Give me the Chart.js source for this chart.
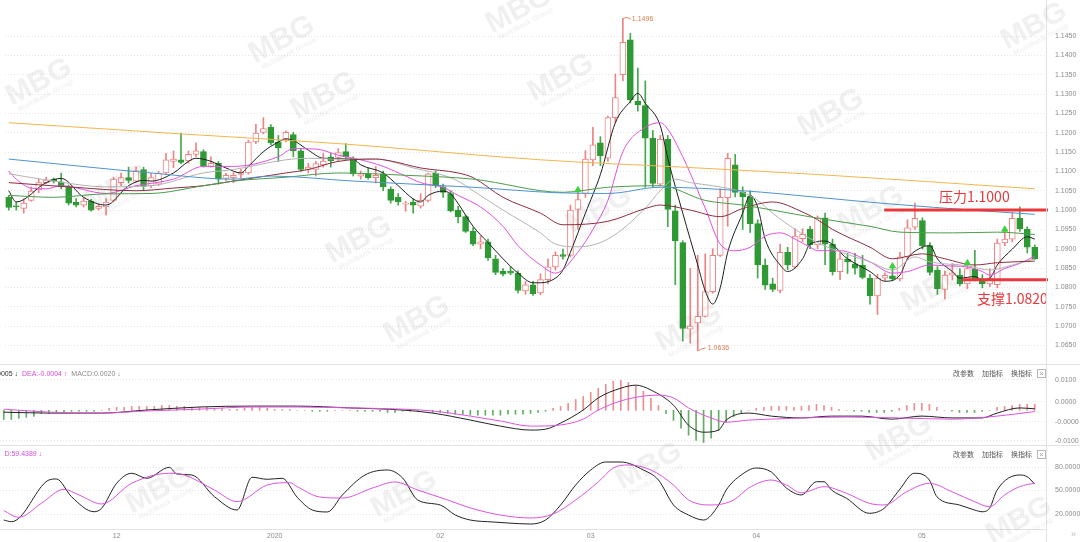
<!DOCTYPE html>
<html lang="zh">
<head>
<meta charset="utf-8">
<title>EUR/USD 日线</title>
<script src="https://cdn.jsdelivr.net/npm/chart.js@4.4.1/dist/chart.umd.min.js"></script>
<style>
  html,body{margin:0;padding:0;background:#fff;}
  body{position:relative;width:1080px;height:542px;overflow:hidden;font-family:'Liberation Sans',Arial,sans-serif;}
  .pane{position:absolute;left:0;width:1080px;}
  .pane canvas{display:block;}
  .rule-h{position:absolute;left:0;width:1080px;height:1px;background:#e2e2e2;}
  .rule-v{position:absolute;top:0;width:1px;height:542px;background:#e2e2e2;}
  .legend{position:absolute;font-size:7px;white-space:nowrap;line-height:9px;}
  .tools{position:absolute;left:953px;font:7px 'Noto Sans CJK SC',sans-serif;color:#555;white-space:nowrap;line-height:9px;}
  .tools span{margin-right:8px;}
  .closebox{position:absolute;left:1037px;width:7px;height:7px;border:1px solid #b8b8b8;font-size:7px;line-height:7px;text-align:center;color:#999;}
  .more{position:absolute;left:1071px;top:529px;font-size:9px;color:#bbb;}
  .wm{position:absolute;transform:translate(-50%,-50%) rotate(-28deg);color:rgba(110,110,110,0.10);
      font:bold 30px 'Liberation Sans',Arial,sans-serif;text-align:center;line-height:26px;pointer-events:none;white-space:nowrap;}
  .wm small{display:block;font:bold 7px 'Liberation Sans',Arial,sans-serif;line-height:8px;letter-spacing:0.3px;}
</style>
</head>
<body>
<div class="pane" style="top:0;height:365px"><canvas id="priceChart" width="1080" height="365"></canvas></div>
<div class="pane" style="top:365px;height:80px"><canvas id="macdChart" width="1080" height="80"></canvas></div>
<div class="pane" style="top:445px;height:97px"><canvas id="kdChart" width="1080" height="97"></canvas></div>

<div class="rule-h" style="top:364px"></div>
<div class="rule-h" style="top:445px"></div>
<div class="rule-h" style="top:529px;width:1047px"></div>
<div class="rule-v" style="left:1046px"></div>

<div class="legend" style="left:-3px;top:369px">
  <span style="color:#333">0005 ↓</span>
  <span style="color:#d94bd9">&nbsp;DEA:-0.0004 ↑</span>
  <span style="color:#8a8a8a">&nbsp;MACD:0.0020 ↓</span>
</div>
<div class="legend" style="left:-3px;top:449px">
  <span style="color:#333">↓</span>
  <span style="color:#d94bd9">&nbsp;D:59.4389 ↓</span>
</div>
<div class="tools" style="top:369px"><span>改参数</span><span>加指标</span><span>换指标</span></div>
<div class="closebox" style="top:369px">×</div>
<div class="tools" style="top:450px"><span>改参数</span><span>加指标</span><span>换指标</span></div>
<div class="closebox" style="top:450px">×</div>
<div class="more">»</div>

<div id="marks"></div>

<script>
// ---- daily candles (oldest first) ----
const candleOpen = [1.1033,1.1011,1.1004,1.1025,1.1052,1.1071,1.1080,1.1073,1.1060,1.1020,
1.1013,1.1023,1.1004,1.1008,1.1025,1.1071,1.1084,1.1075,1.1105,1.1063,
1.1067,1.1096,1.1126,1.1130,1.1127,1.1144,1.1151,1.1113,1.1121,1.1082,
1.1084,1.1092,1.1096,1.1176,1.1201,1.1214,1.1176,1.1184,1.1195,1.1153,
1.1105,1.1105,1.1117,1.1137,1.1136,1.1151,1.1134,1.1088,1.1094,1.1084,
1.1094,1.1054,1.1033,1.1015,1.1021,1.1010,1.1025,1.1096,1.1060,1.1043,
1.1000,1.0983,1.0945,1.0912,1.0918,1.0874,1.0842,1.0842,1.0837,1.0791,
1.0807,1.0786,1.0820,1.0853,1.0885,1.0883,1.1002,1.1043,1.1130,1.1174,
1.1134,1.1239,1.1350,1.1440,1.1281,1.1270,1.1186,1.1067,1.1183,1.0998,
1.0916,1.0692,1.0708,1.0725,1.0789,1.0883,1.1032,1.1117,1.1046,1.1035,
1.0965,1.0858,1.0809,1.0792,1.0891,1.0853,1.0926,1.0950,1.0910,1.0980,
1.0912,1.0841,1.0873,1.0861,1.0858,1.0824,1.0778,1.0824,1.0830,1.0822,
1.0879,1.0956,1.0973,1.0908,1.0845,1.0795,1.0832,1.0831,1.0809,1.0847,
1.0822,1.0809,1.0807,1.0915,1.0925,1.0979,1.0951,1.0904];
const candleHigh = [1.1038,1.1021,1.1029,1.1060,1.1080,1.1085,1.1083,1.1096,1.1065,1.1030,
1.1033,1.1028,1.1015,1.1030,1.1085,1.1096,1.1111,1.1111,1.1111,1.1095,
1.1100,1.1147,1.1153,1.1199,1.1153,1.1174,1.1156,1.1138,1.1126,1.1096,
1.1097,1.1106,1.1181,1.1222,1.1239,1.1221,1.1193,1.1205,1.1201,1.1159,
1.1121,1.1126,1.1147,1.1147,1.1159,1.1172,1.1138,1.1101,1.1108,1.1113,
1.1101,1.1060,1.1043,1.1023,1.1030,1.1042,1.1096,1.1101,1.1067,1.1050,
1.1010,1.0987,1.0955,1.0933,1.0925,1.0883,1.0849,1.0854,1.0843,1.0816,
1.0816,1.0835,1.0874,1.0892,1.0899,1.1013,1.1055,1.1154,1.1214,1.1190,
1.1243,1.1352,1.1496,1.1457,1.1367,1.1334,1.1206,1.1193,1.1193,1.1013,
1.0921,1.0849,1.0883,1.0887,1.0900,1.1055,1.1147,1.1144,1.1060,1.1050,
1.0975,1.0874,1.0824,1.0912,1.0904,1.0952,1.0952,1.0958,1.0985,1.0992,
1.0925,1.0892,1.0888,1.0888,1.0883,1.0834,1.0834,1.0838,1.0858,1.0891,
1.0975,1.1018,1.0980,1.0916,1.0854,1.0842,1.0862,1.0849,1.0868,1.0896,
1.0833,1.0849,1.0925,1.0953,1.0994,1.1008,1.0957,1.0910];
const candleLow = [1.1000,1.1000,1.0992,1.1023,1.1045,1.1068,1.1070,1.1055,1.1013,1.1008,
1.1008,1.0997,1.1000,1.0987,1.1023,1.1063,1.1070,1.1072,1.1050,1.1058,
1.1063,1.1093,1.1110,1.1120,1.1121,1.1138,1.1111,1.1111,1.1067,1.1076,
1.1071,1.1084,1.1093,1.1172,1.1197,1.1169,1.1126,1.1176,1.1138,1.1100,
1.1096,1.1088,1.1111,1.1111,1.1126,1.1131,1.1088,1.1080,1.1080,1.1070,
1.1050,1.1018,1.1013,1.0997,1.0992,1.1005,1.1021,1.1058,1.1033,1.0995,
1.0967,1.0942,1.0908,1.0900,1.0870,1.0833,1.0830,1.0833,1.0786,1.0782,
1.0779,1.0781,1.0810,1.0845,1.0873,1.0880,1.0950,1.1033,1.1115,1.1115,
1.1126,1.1226,1.1335,1.1277,1.1256,1.1059,1.1059,1.1063,1.0957,1.0807,
1.0661,1.0656,1.0636,1.0723,1.0785,1.0880,1.0958,1.1034,1.0950,1.0942,
1.0824,1.0795,1.0789,1.0786,1.0846,1.0849,1.0918,1.0900,1.0900,1.0859,
1.0832,1.0820,1.0836,1.0834,1.0822,1.0757,1.0730,1.0818,1.0817,1.0817,
1.0874,1.0950,1.0899,1.0832,1.0782,1.0770,1.0819,1.0804,1.0797,1.0817,
1.0799,1.0802,1.0799,1.0908,1.0918,1.0945,1.0889,1.0872];
const candleClose = [1.1007,1.1008,1.1018,1.1049,1.1071,1.1078,1.1075,1.1060,1.1018,1.1013,
1.1023,1.1000,1.1010,1.1021,1.1080,1.1084,1.1077,1.1102,1.1061,1.1084,
1.1096,1.1130,1.1132,1.1123,1.1144,1.1153,1.1115,1.1121,1.1080,1.1090,
1.1090,1.1099,1.1176,1.1199,1.1211,1.1174,1.1161,1.1201,1.1153,1.1105,
1.1111,1.1120,1.1127,1.1127,1.1149,1.1138,1.1094,1.1094,1.1084,1.1090,
1.1060,1.1025,1.1021,1.1018,1.1013,1.1025,1.1094,1.1063,1.1046,1.0998,
1.0983,1.0945,1.0912,1.0918,1.0876,1.0839,1.0834,1.0837,1.0792,1.0807,
1.0784,1.0820,1.0853,1.0883,1.0880,1.1000,1.1027,1.1132,1.1169,1.1141,
1.1239,1.1291,1.1434,1.1285,1.1272,1.1186,1.1069,1.1183,1.1002,1.0920,
1.0694,1.0700,1.0725,1.0789,1.0883,1.1033,1.1134,1.1046,1.1035,1.0965,
1.0858,1.0806,1.0795,1.0891,1.0858,1.0933,1.0937,1.0910,1.0980,1.0912,
1.0841,1.0874,1.0866,1.0850,1.0826,1.0778,1.0824,1.0831,1.0822,1.0879,
1.0954,1.0979,1.0908,1.0839,1.0797,1.0832,1.0838,1.0809,1.0849,1.0822,
1.0809,1.0824,1.0915,1.0925,1.0979,1.0951,1.0904,1.0874];

// ---- moving averages, sampled as [day index, value] ----
const ma5Points = [[0,1.1050],[1,1.1021],[5,1.1071],[7,1.1082],[10,1.1033],[13,1.1013],[16,1.1063],[18,1.1077],[19,1.1075],[22,1.1096],[24,1.1126],[25,1.1134],[27,1.1126],[29,1.1109],[31,1.1096],[32,1.1113],[34,1.1151],[36,1.1176],[37,1.1184],[38,1.1180],[40,1.1155],[42,1.1134],[46,1.1132],[47,1.1117],[50,1.1096],[52,1.1063],[54,1.1029],[55,1.1021],[56,1.1038],[58,1.1049],[59,1.1042],[60,1.1017],[62,1.0958],[64,1.0916],[66,1.0874],[68,1.0837],[70,1.0812],[71,1.0812],[73,1.0824],[74,1.0845],[75,1.0891],[77,1.0992],[79,1.1092],[81,1.1226],[83,1.1281],[84,1.1302],[85,1.1276],[87,1.1218],[88,1.1134],[90,1.0992],[92,1.0858],[93,1.0791],[94,1.0757],[95,1.0799],[96,1.0891],[98,1.0992],[99,1.1038],[100,1.1008],[101,1.0925],[103,1.0858],[104,1.0841],[106,1.0874],[107,1.0912],[109,1.0920],[112,1.0874],[115,1.0841],[117,1.0816],[119,1.0832],[120,1.0874],[122,1.0904],[123,1.0908],[124,1.0874],[126,1.0841],[127,1.0824],[129,1.0828],[130,1.0820],[131,1.0824],[132,1.0858],[134,1.0899],[136,1.0931],[137,1.0925]];
const ma10Points = [[0,1.1101],[1,1.1080],[3,1.1057],[5,1.1055],[7,1.1063],[13,1.1043],[17,1.1063],[22,1.1080],[26,1.1113],[30,1.1113],[36,1.1138],[38,1.1159],[41,1.1158],[44,1.1142],[47,1.1130],[50,1.1113],[53,1.1088],[55,1.1071],[57,1.1063],[58,1.1059],[60,1.1038],[63,1.1008],[66,1.0958],[68,1.0908],[71,1.0858],[73,1.0837],[76,1.0891],[78,1.0950],[80,1.1025],[82,1.1151],[85,1.1214],[87,1.1226],[88,1.1209],[90,1.1138],[92,1.1050],[93,1.1005],[95,1.0912],[97,1.0895],[99,1.0904],[101,1.0933],[103,1.0941],[105,1.0925],[107,1.0904],[108,1.0895],[111,1.0895],[115,1.0866],[118,1.0837],[120,1.0841],[123,1.0858],[125,1.0856],[128,1.0853],[130,1.0841],[131,1.0832],[133,1.0849],[135,1.0862],[137,1.0881]];
const ma20Points = [[0,1.1094],[6,1.1075],[13,1.1060],[19,1.1063],[26,1.1096],[30,1.1105],[37,1.1130],[40,1.1134],[44,1.1132],[49,1.1132],[51,1.1126],[54,1.1109],[57,1.1096],[60,1.1075],[62,1.1050],[66,1.1000],[71,1.0941],[73,1.0912],[76,1.0905],[80,1.0925],[85,1.1005],[87,1.1050],[89,1.1080],[91,1.1071],[94,1.1063],[98,1.1046],[100,1.1025],[102,1.0992],[105,1.0950],[108,1.0916],[110,1.0899],[115,1.0866],[118,1.0845],[121,1.0879],[123,1.0866],[128,1.0856],[131,1.0845],[134,1.0858],[137,1.0874]];
const ma30Points = [[0,1.1071],[8,1.1060],[17,1.1050],[22,1.1057],[26,1.1063],[30,1.1075],[37,1.1096],[40,1.1105],[44,1.1126],[49,1.1132],[51,1.1127],[55,1.1109],[60,1.1096],[62,1.1084],[66,1.1033],[71,1.0992],[74,1.0962],[80,1.0971],[85,1.1004],[87,1.1013],[91,1.1000],[95,1.0983],[98,1.1004],[102,1.1021],[106,1.0995],[108,1.0975],[110,1.0950],[115,1.0904],[118,1.0874],[122,1.0887],[125,1.0874],[129,1.0858],[132,1.0864],[137,1.0868]];
const ma60Points = [[0,1.1038],[6,1.1033],[13,1.1042],[19,1.1043],[26,1.1063],[30,1.1075],[37,1.1085],[44,1.1096],[53,1.1090],[62,1.1080],[74,1.1046],[80,1.1059],[87,1.1063],[93,1.1025],[98,1.1013],[102,1.1000],[108,1.0979],[115,1.0958],[119,1.0943],[126,1.0941],[132,1.0943],[137,1.0937]];
const ma120Points = [[0,1.1132],[19,1.1096],[30,1.1080],[35,1.1088],[46,1.1075],[62,1.1059],[73,1.1045],[80,1.1043],[87,1.1059],[98,1.1050],[108,1.1033],[117,1.1017],[130,1.0998],[137,1.0989]];
const ma250Points = [[0,1.1226],[23,1.1197],[44,1.1172],[71,1.1130],[90,1.1111],[108,1.1092],[137,1.1055]];

// ---- MACD ----
const difPoints = [[0,-0.0006],[6,-0.0009],[13,-0.0009],[19,0.0001],[26,0.0011],[33,0.0014],[39,0.0014],[46,0.0008],[53,0.0001],[57,-0.0009],[62,-0.0032],[66,-0.0052],[70,-0.0065],[72,-0.0062],[74,-0.0042],[77,0.0001],[79,0.0041],[82,0.0073],[84,0.0083],[86,0.0067],[89,0.0017],[91,-0.0049],[93,-0.0072],[95,-0.0065],[96,-0.0032],[99,-0.0009],[102,-0.0019],[106,-0.0025],[110,-0.0019],[114,-0.0019],[118,-0.0029],[122,-0.0019],[126,-0.0025],[130,-0.0025],[132,-0.0009],[135,0.0008],[137,0.0005]];
const deaPoints = [[0,0.0004],[6,-0.0006],[13,-0.0009],[19,-0.0002],[26,0.0004],[33,0.0011],[39,0.0011],[46,0.0008],[53,0.0004],[57,-0.0002],[62,-0.0019],[66,-0.0035],[70,-0.0052],[74,-0.0048],[77,-0.0029],[79,0.0001],[82,0.0031],[85,0.0047],[87,0.0050],[89,0.0041],[91,0.0008],[94,-0.0025],[96,-0.0039],[99,-0.0032],[102,-0.0029],[106,-0.0025],[112,-0.0022],[119,-0.0025],[126,-0.0029],[132,-0.0019],[137,-0.0004]];
const macdBar = [-0.0030,-0.0030,-0.0026,-0.0023,-0.0020,
-0.0010,-0.0010,-0.0007,-0.0007,-0.0003,-0.0003,-0.0003,-0.0003,0,
0.0007,0.0010,0.0010,0.0013,0.0013,0.0013,0.0013,0.0016,0.0016,0.0013,0.0013,0.0010,0.0010,
0.0010,0.0007,0.0007,0.0003,0.0003,0.0007,0.0010,0.0010,0.0007,0.0003,0.0003,0.0003,0,0,-0.0003,-0.0003,-0.0003,0,0,
0,-0.0003,-0.0003,-0.0003,-0.0003,-0.0007,-0.0007,-0.0003,-0.0003,-0.0003,0,
-0.0007,-0.0007,-0.0010,-0.0013,-0.0013,-0.0016,-0.0016,-0.0016,-0.0016,-0.0016,-0.0013,-0.0013,-0.0013,-0.0010,
-0.0007,-0.0003,0.0007,0.0013,0.0023,0.0036,
0.0046,0.0059,0.0073,0.0086,0.0096,0.0099,0.0092,0.0079,0.0063,0.0040,
0.0016,-0.0010,
-0.0033,-0.0059,-0.0082,-0.0099,-0.0106,-0.0092,-0.0066,-0.0040,
-0.0020,-0.0010,0,0.0007,
0.0010,0.0013,0.0013,0.0013,0.0010,0.0013,0.0016,0.0020,
0.0016,0.0010,0.0003,0,-0.0003,-0.0003,-0.0007,-0.0007,-0.0007,-0.0003,
0.0007,0.0016,0.0023,0.0023,0.0020,0.0010,
0,-0.0003,-0.0007,-0.0007,-0.0007,-0.0003,0,
0.0010,0.0013,0.0016,0.0020,0.0020,0.0020];

// ---- KD ----
const kPoints = [[0,12.3],[1,10.2],[2,14.5],[6,63.4],[7,64.7],[9,42.1],[12,22.9],[13,27.3],[15,59.2],[17,72.0],[19,65.6],[22,79.6],[23,71.1],[25,69.8],[28,42.1],[31,25.1],[33,66.9],[35,64.3],[37,65.6],[39,41.3],[41,25.1],[43,22.6],[45,44.3],[48,69.8],[51,76.2],[53,66.0],[55,37.9],[58,31.5],[60,18.7],[62,12.3],[65,9.8],[67,8.5],[70,7.2],[72,12.3],[74,31.5],[76,57.0],[78,76.2],[80,86.4],[82,86.4],[85,76.2],[87,63.4],[89,31.5],[91,18.7],[93,12.3],[95,31.5],[96,50.6],[98,69.8],[100,78.7],[102,73.6],[104,53.2],[106,44.3],[108,61.2],[109,61.2],[110,50.6],[112,40.0],[115,20.9],[117,27.3],[119,50.6],[121,72.0],[123,63.4],[124,42.1],[127,31.5],[129,25.1],[130,22.9],[131,27.3],[132,50.6],[135,69.8],[136,67.6],[137,58.3]];
const dPoints = [[0,24.2],[2,15.8],[5,33.7],[8,51.5],[10,44.3],[13,32.8],[17,59.2],[22,72.0],[24,69.8],[28,50.6],[31,35.7],[35,57.0],[38,60.0],[39,54.9],[42,41.7],[45,40.4],[49,53.2],[52,60.9],[55,50.6],[59,37.9],[62,27.7],[66,18.7],[70,14.9],[73,20.0],[76,37.9],[79,60.9],[81,78.7],[83,82.6],[86,76.2],[89,57.0],[91,37.9],[94,31.5],[97,37.9],[99,53.2],[102,63.4],[104,57.0],[106,47.0],[109,54.9],[112,46.4],[115,33.7],[117,31.5],[120,48.5],[123,59.2],[126,48.5],[129,35.7],[131,29.3],[133,44.3],[135,54.9],[137,59.4389]];

// ---- axes ----
const priceTicks = [1.0650,1.0700,1.0750,1.0800,1.0850,1.0900,1.0950,1.1000,1.1050,1.1100,1.1150,1.1200,1.1250,1.1300,1.1350,1.1400,1.1450];
const macdTicks = [0.0100,0.0028,-0.0038,-0.0100];
const macdTickText = ['0.0100','0.0000','-0.0000','-0.0100'];
const kdTicks = [80,50,20];
const monthTickIndex = [15,36,58,78,100,122];
const monthTickText = ['12','2020','02','03','04','05'];
const keyLevels = [
  {name:'压力', value:1.1000, from:116.9, textAt:124.2, textDy:-13},
  {name:'支撑', value:1.0820, from:127.3, textAt:129.3, textDy:19}
];
const signalPoints = [[76,1.1052],[118,1.0855],[128,1.0863],[133,1.0950]];

// one extra empty slot on the right edge
const slotCount = candleClose.length + 1;
const dayLabels = Array.from({length: slotCount}, (_, i) => String(i));

function toSeries(points) {
  const out = new Array(candleClose.length).fill(null);
  points.forEach(([i, v]) => { out[i] = v; });
  return out;
}

const UP = '#ee8383', DOWN = '#2f9a35', DOWN_WICK = '#45a84a';
const isUp = candleClose.map((c, i) => c >= candleOpen[i]);

Chart.defaults.font.family = "'Liberation Sans', Arial, sans-serif";
Chart.defaults.font.size = 7;
Chart.defaults.color = '#8c8c8c';

function hiddenX() {
  return { type:'category', offset:true, display:false, grid:{display:false} };
}
function rightAxis(extra) {
  return Object.assign({
    position:'right',
    grid:{color:'#e6e6e6', drawTicks:false, lineWidth:1},
    border:{display:false, dash:[1,2]},
    ticks:{padding:9, color:'#8c8c8c', font:{size:7}},
    afterFit(scale){ scale.width = 34; scale.paddingTop = 0; scale.paddingBottom = 0; }
  }, extra);
}
function lineSet(points, color, order) {
  return { type:'line', data: toSeries(points), borderColor: color, borderWidth: 1, pointRadius: 0,
           spanGaps: true, cubicInterpolationMode: 'monotone', order: order || 1 };
}
const baseOptions = {
  responsive:false, animation:false, events:[],
  layout:{padding:0},
  plugins:{legend:{display:false}, tooltip:{enabled:false}}
};

// price panel decorations: key levels and extreme labels
const priceDecor = {
  id:'priceDecor',
  afterDatasetsDraw(chart) {
    const {ctx, chartArea, scales:{x, y}} = chart;
    ctx.save();
    keyLevels.forEach(lv => {
      const py = y.getPixelForValue(lv.value);
      ctx.strokeStyle = '#e8383c'; ctx.lineWidth = 3;
      ctx.beginPath(); ctx.moveTo(x.getPixelForValue(lv.from), py); ctx.lineTo(chartArea.right + 2, py); ctx.stroke();
      ctx.fillStyle = '#e8383c'; ctx.font = "14px 'Noto Sans CJK SC', sans-serif"; ctx.textBaseline = 'middle';
      ctx.fillText(lv.name + lv.value.toFixed(4), x.getPixelForValue(lv.textAt), py + lv.textDy);
    });
    const hi = Math.max(...candleHigh), lo = Math.min(...candleLow);
    const hiIdx = candleHigh.indexOf(hi), loIdx = candleLow.indexOf(lo);
    ctx.strokeStyle = '#e38a62'; ctx.fillStyle = '#e07a4f'; ctx.lineWidth = 1;
    ctx.font = "7px 'Liberation Sans', Arial, sans-serif"; ctx.textBaseline = 'middle';
    const hx = x.getPixelForValue(hiIdx), hy = y.getPixelForValue(hi);
    ctx.beginPath(); ctx.moveTo(hx + 0.5, hy); ctx.lineTo(hx + 4, hy - 1); ctx.lineTo(hx + 8, hy + 1); ctx.stroke();
    ctx.fillText(hi.toFixed(4), hx + 9, hy + 1);
    const lx = x.getPixelForValue(loIdx), ly = y.getPixelForValue(lo);
    ctx.beginPath(); ctx.moveTo(lx + 0.5, ly); ctx.lineTo(lx + 4, ly - 2); ctx.lineTo(lx + 8, ly - 3); ctx.stroke();
    ctx.fillText(lo.toFixed(4), lx + 10, ly - 3);
    ctx.restore();
  }
};

new Chart(document.getElementById('priceChart'), {
  data: {
    labels: dayLabels,
    datasets: [
      { type:'bar', data: candleLow.map((l, i) => [l, candleHigh[i]]),
        backgroundColor: isUp.map(u => u ? UP : DOWN_WICK), barThickness: 1, grouped: false, order: 3 },
      { type:'bar', data: candleOpen.map((o, i) => [o, candleClose[i]]),
        backgroundColor: isUp.map(u => u ? '#ffffff' : DOWN), borderColor: isUp.map(u => u ? UP : DOWN),
        borderWidth: 1, borderSkipped: false, barThickness: 6, minBarLength: 1, grouped: false, order: 2 },
      lineSet(ma250Points, '#f3b54c'),
      lineSet(ma120Points, '#4f93cf'),
      lineSet(ma60Points, '#4b9c4b'),
      lineSet(ma30Points, '#8e2d3d'),
      lineSet(ma20Points, '#b3b3b3'),
      lineSet(ma10Points, '#e14fe1'),
      lineSet(ma5Points, '#1e1e1e'),
      { type:'line', data: toSeries(signalPoints), showLine:false, pointStyle:'triangle', pointRadius:3.5,
        pointBackgroundColor:'#38d438', pointBorderColor:'#38d438', order: 0 }
    ]
  },
  options: Object.assign({}, baseOptions, {
    scales: {
      x: hiddenX(),
      y: rightAxis({
        min: 1.06123, max: 1.15304,
        afterBuildTicks(scale){ scale.ticks = priceTicks.map(v => ({value: v})); },
        ticks:{padding:9, color:'#8c8c8c', font:{size:7}, callback: v => Number(v).toFixed(4)}
      })
    }
  }),
  plugins:[priceDecor]
});

new Chart(document.getElementById('macdChart'), {
  data: {
    labels: dayLabels,
    datasets: [
      { type:'bar', data: macdBar, backgroundColor: macdBar.map(v => v >= 0 ? '#ec8f8f' : '#62ad62'),
        barThickness: 1, grouped: false, order: 2 },
      lineSet(deaPoints, '#df52df'),
      lineSet(difPoints, '#222222')
    ]
  },
  options: Object.assign({}, baseOptions, {
    scales: {
      x: hiddenX(),
      y: rightAxis({
        min: -0.011417, max: 0.014942,
        afterBuildTicks(scale){ scale.ticks = macdTicks.map(v => ({value: v})); },
        ticks:{padding:9, color:'#8c8c8c', font:{size:7}, callback: (v, i) => macdTickText[i]}
      })
    }
  })
});

new Chart(document.getElementById('kdChart'), {
  data: {
    labels: dayLabels,
    datasets: [
      lineSet(dPoints, '#df52df'),
      lineSet(kPoints, '#222222')
    ]
  },
  options: Object.assign({}, baseOptions, {
    scales: {
      x: {
        type:'category', offset:true, grid:{display:false, drawTicks:false}, border:{display:false},
        afterBuildTicks(scale){ scale.ticks = monthTickIndex.map(v => ({value: v})); },
        ticks:{autoSkip:false, maxRotation:0, padding:3, color:'#8c8c8c', font:{size:7},
               callback: (v, i) => monthTickText[i]},
        afterFit(scale){ scale.height = 13; scale.paddingLeft = 0; scale.paddingRight = 0; }
      },
      y: rightAxis({
        min: 0.85, max: 108.09,
        afterBuildTicks(scale){ scale.ticks = kdTicks.map(v => ({value: v})); },
        ticks:{padding:9, color:'#8c8c8c', font:{size:7}, callback: v => Number(v).toFixed(4)}
      })
    }
  })
});

// brand watermark lattice
const markSpots = [[283,42],[520,12],[40,84],[325,98],[562,80],[1035,28],[832,115],[118,190],[360,242],
  [600,212],[872,212],[418,322],[690,330],[935,290],[160,492],[405,496],[650,468],[900,440],[1020,522]];
const marks = document.getElementById('marks');
markSpots.forEach(([mx, my]) => {
  const d = document.createElement('div');
  d.className = 'wm';
  d.style.left = mx + 'px'; d.style.top = my + 'px';
  d.innerHTML = 'MBG<small>MultiBank Group</small>';
  marks.appendChild(d);
});
</script>
</body>
</html>
